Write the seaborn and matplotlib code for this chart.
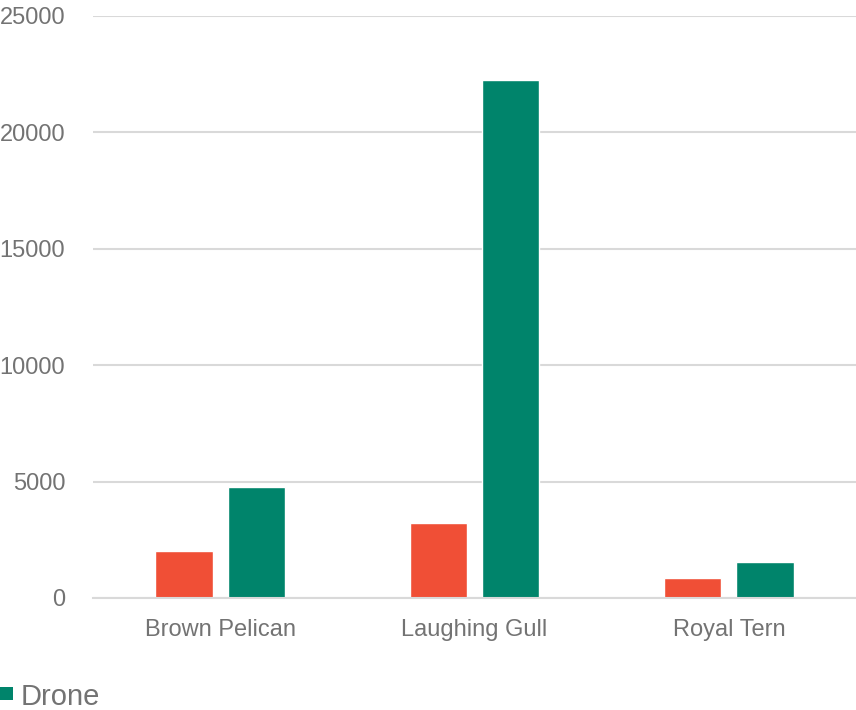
import matplotlib
matplotlib.use("Agg")
import matplotlib.pyplot as plt
from matplotlib.patches import Rectangle
import seaborn as sns
import pandas as pd

species = ["Brown Pelican", "Laughing Gull", "Royal Tern"]
ground_counts = [2000, 3220, 860]
drone_counts = [4770, 22250, 1550]
series_names = ["Ground", "Drone"]
y_ticks = [0, 5000, 10000, 15000, 20000, 25000]

RED = "#F04F36"
GREEN = "#00846B"
TEXT = "#737373"
GRID = "#D9D9D9"

df = pd.DataFrame({
    "species": species * 2,
    "count": ground_counts + drone_counts,
    "method": [series_names[0]] * 3 + [series_names[1]] * 3,
})

sns.set_theme(style="white")
plt.rcParams["font.family"] = ["Liberation Sans", "DejaVu Sans"]

W, H = 856, 710
fig = plt.figure(figsize=(W / 100, H / 100), dpi=100)
ax = fig.add_axes([93 / W, 1 - 598 / H, 1 - 93 / W, (598 - 16) / H])

sns.barplot(
    data=df, x="species", y="count", hue="method",
    palette=[RED, GREEN], width=0.57, gap=0.21,
    saturation=1, ax=ax, legend=False, errorbar=None,
)

ax.set_xlim(-0.5, 2.5)
ax.set_ylim(0, 25000)
ax.set_yticks(y_ticks)
ax.set_yticklabels([str(v) for v in y_ticks])
ax.set_xlabel("")
ax.set_ylabel("")
ax.yaxis.grid(True, color=GRID, linewidth=1.5)
ax.set_axisbelow(True)
for side in ["top", "right", "left"]:
    ax.spines[side].set_visible(False)
ax.spines["bottom"].set_color(GRID)
ax.spines["bottom"].set_linewidth(1.5)
ax.tick_params(axis="both", length=0, labelsize=17, labelcolor=TEXT)
ax.tick_params(axis="y", pad=20)
ax.tick_params(axis="x", pad=15)

# Legend entry for the drone series, placed at the lower-left corner
fig.patches.append(Rectangle((0, (H - 700) / H), 13 / W, 13 / H,
                             transform=fig.transFigure, facecolor=GREEN,
                             edgecolor="none"))
fig.text(21 / W, (H - 705) / H, series_names[1], fontsize=21, color=TEXT,
         ha="left", va="baseline")

fig.savefig("out.png", dpi=100)
